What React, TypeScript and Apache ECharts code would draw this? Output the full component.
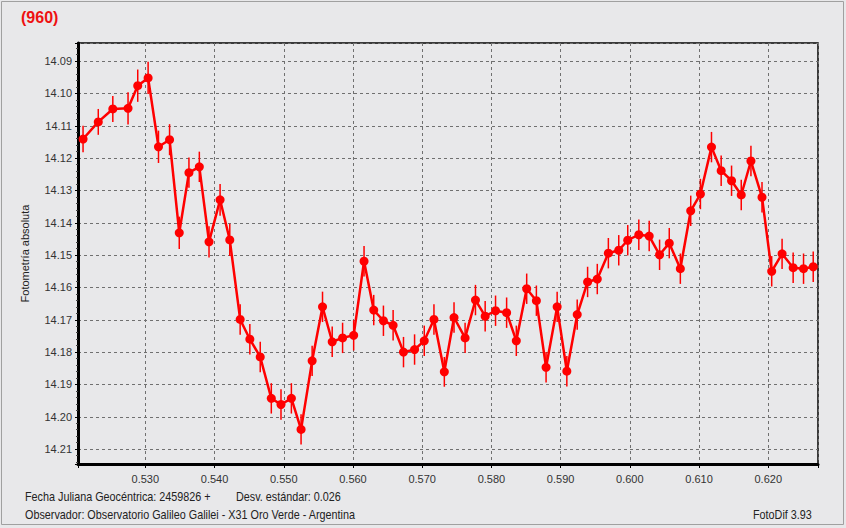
import React, { useEffect, useRef } from "react";
import * as echarts from "echarts";

const jdOffsets: number[] = [
  0.5210, 0.5232, 0.5253, 0.5275, 0.5289, 0.5304, 0.5319, 0.5335, 0.5349, 0.5363,
  0.5378, 0.5392, 0.5408, 0.5422, 0.5437, 0.5451, 0.5466, 0.5482, 0.5496, 0.5511,
  0.5525, 0.5541, 0.5556, 0.5570, 0.5585, 0.5601, 0.5616, 0.5630, 0.5644, 0.5658,
  0.5673, 0.5689, 0.5703, 0.5717, 0.5732, 0.5746, 0.5762, 0.5777, 0.5791, 0.5806,
  0.5822, 0.5836, 0.5851, 0.5865, 0.5879, 0.5895, 0.5909, 0.5924, 0.5939, 0.5953,
  0.5969, 0.5984, 0.5997, 0.6013, 0.6028, 0.6043, 0.6057, 0.6073, 0.6088, 0.6102,
  0.6118, 0.6132, 0.6147, 0.6161, 0.6175, 0.6191, 0.6205, 0.6220, 0.6236, 0.6251,
  0.6265,
];

const magnitudes: number[] = [
  14.1141, 14.1088, 14.1048, 14.1046, 14.0976, 14.0952, 14.1165, 14.1143, 14.1431, 14.1245,
  14.1227, 14.1459, 14.1329, 14.1453, 14.1699, 14.1760, 14.1815, 14.1943, 14.1962, 14.1943,
  14.2039, 14.1827, 14.1660, 14.1768, 14.1756, 14.1748, 14.1519, 14.1670, 14.1703, 14.1717,
  14.1800, 14.1792, 14.1765, 14.1699, 14.1861, 14.1693, 14.1756, 14.1639, 14.1689, 14.1672,
  14.1678, 14.1765, 14.1604, 14.1641, 14.1847, 14.1660, 14.1859, 14.1684, 14.1583, 14.1574,
  14.1494, 14.1485, 14.1454, 14.1437, 14.1441, 14.1499, 14.1463, 14.1542, 14.1363, 14.1311,
  14.1166, 14.1239, 14.1270, 14.1314, 14.1209, 14.1321, 14.1550, 14.1496, 14.1539, 14.1542,
  14.1536,
];

const errors: number[] = [
  0.0041, 0.0040, 0.0040, 0.0050, 0.0050, 0.0050, 0.0050, 0.0048, 0.0050, 0.0047,
  0.0047, 0.0048, 0.0049, 0.0050, 0.0047, 0.0047, 0.0047, 0.0047, 0.0047, 0.0047,
  0.0047, 0.0047, 0.0047, 0.0047, 0.0047, 0.0047, 0.0047, 0.0047, 0.0047, 0.0047,
  0.0047, 0.0047, 0.0047, 0.0047, 0.0046, 0.0047, 0.0047, 0.0047, 0.0047, 0.0047,
  0.0047, 0.0047, 0.0047, 0.0047, 0.0047, 0.0047, 0.0047, 0.0047, 0.0047, 0.0047,
  0.0047, 0.0047, 0.0047, 0.0047, 0.0047, 0.0047, 0.0047, 0.0047, 0.0047, 0.0047,
  0.0047, 0.0047, 0.0047, 0.0047, 0.0047, 0.0047, 0.0047, 0.0047, 0.0047, 0.0047,
  0.0047,
];

const titleText = "(960)";
const yAxisTitle = "Fotometría absoluta";
const footerLine1a = "Fecha Juliana Geocéntrica: 2459826 +";
const footerLine1b = "Desv. estándar: 0.026";
const footerLine2 = "Observador: Observatorio Galileo Galilei - X31 Oro Verde - Argentina";
const footerRight = "FotoDif 3.93";

const X_MIN = 0.52027;
const X_MAX = 0.62719;
const Y_MIN = 14.0844;
const Y_MAX = 14.2146;

export default function App() {
  const ref = useRef<HTMLDivElement>(null);
  useEffect(() => {
    if (!ref.current) return;
    const chart = echarts.init(ref.current, null, { renderer: "svg" });
    const lineData = jdOffsets.map((x, i) => [x, magnitudes[i]]);
    const errData = jdOffsets.map((x, i) => [x, magnitudes[i], errors[i]]);
    const sans = "'Liberation Sans', Arial, sans-serif";
    const red = "#ff0000";
    const footFont = `12px ${sans}`;
    chart.setOption({
      animation: false,
      backgroundColor: "#e8e8ea",
      grid: {
        left: 78,
        top: 43,
        right: 28,
        bottom: 64,
        show: true,
        backgroundColor: "#e8e8ea",
        borderColor: "#000",
        borderWidth: 1.5,
      },
      xAxis: {
        type: "value",
        min: X_MIN,
        max: X_MAX,
        splitNumber: 11,
        axisLine: { show: true, lineStyle: { color: "#000", width: 3 } },
        axisTick: { show: true, length: 4, lineStyle: { color: "#000" } },
        minorTick: { show: true, splitNumber: 5, length: 2, lineStyle: { color: "#000" } },
        splitLine: { show: true, lineStyle: { color: "#707070", type: [3, 3], width: 1 } },
        axisLabel: {
          showMinLabel: false,
          showMaxLabel: false,
          color: "#333",
          fontFamily: sans,
          fontSize: 11,
          margin: 9,
          formatter: (v: number) => v.toFixed(3),
        },
      },
      yAxis: {
        type: "value",
        inverse: true,
        min: Y_MIN,
        max: Y_MAX,
        splitNumber: 13,
        name: yAxisTitle,
        nameLocation: "middle",
        nameGap: 48,
        nameTextStyle: { fontFamily: sans, fontSize: 11, color: "#222" },
        axisLine: { show: true, lineStyle: { color: "#000", width: 3 } },
        axisTick: { show: true, length: 3, lineStyle: { color: "#000" } },
        minorTick: { show: true, splitNumber: 5, length: 2, lineStyle: { color: "#444" } },
        splitLine: { show: true, lineStyle: { color: "#707070", type: [3, 3], width: 1 } },
        axisLabel: {
          showMinLabel: false,
          showMaxLabel: false,
          color: "#333",
          fontFamily: sans,
          fontSize: 11,
          margin: 6,
          formatter: (v: number) => v.toFixed(2),
        },
      },
      graphic: [
        {
          type: "rect",
          shape: { x: 1.5, y: 1.5, width: 842, height: 523 },
          style: { fill: "none", stroke: "#a0a0a0", lineWidth: 1 },
          silent: true,
        },
        {
          type: "text",
          left: 21,
          top: 9,
          style: { text: titleText, fill: "#ee1111", font: `bold 16px ${sans}` },
        },
        {
          type: "text",
          left: 25,
          top: 491,
          scaleX: 0.9,
          style: { text: footerLine1a, fill: "#222", font: footFont },
        },
        {
          type: "text",
          left: 236,
          top: 491,
          scaleX: 0.9,
          style: { text: footerLine1b, fill: "#222", font: footFont },
        },
        {
          type: "text",
          left: 25,
          top: 509,
          scaleX: 0.9,
          style: { text: footerLine2, fill: "#222", font: footFont },
        },
        {
          type: "text",
          left: 753,
          top: 509,
          scaleX: 0.9,
          style: { text: footerRight, fill: "#222", font: footFont },
        },
      ],
      series: [
        {
          type: "custom",
          data: errData,
          encode: { x: 0, y: 1 },
          z: 3,
          renderItem: (params: any, api: any) => {
            const x = api.value(0);
            const y = api.value(1);
            const e = api.value(2);
            const a = api.coord([x, y - e]);
            const b = api.coord([x, y + e]);
            return {
              type: "line",
              shape: { x1: a[0], y1: a[1], x2: b[0], y2: b[1] },
              style: { stroke: red, lineWidth: 1.5 },
            };
          },
        },
        {
          type: "line",
          data: lineData,
          z: 4,
          symbol: "circle",
          symbolSize: 9,
          showAllSymbol: true,
          lineStyle: { color: red, width: 2.5 },
          itemStyle: { color: red },
        },
      ],
    });
    return () => chart.dispose();
  }, []);
  return (
    <div
      ref={ref}
      style={{ position: "fixed", left: 0, top: 0, width: 846, height: 528 }}
    />
  );
}
